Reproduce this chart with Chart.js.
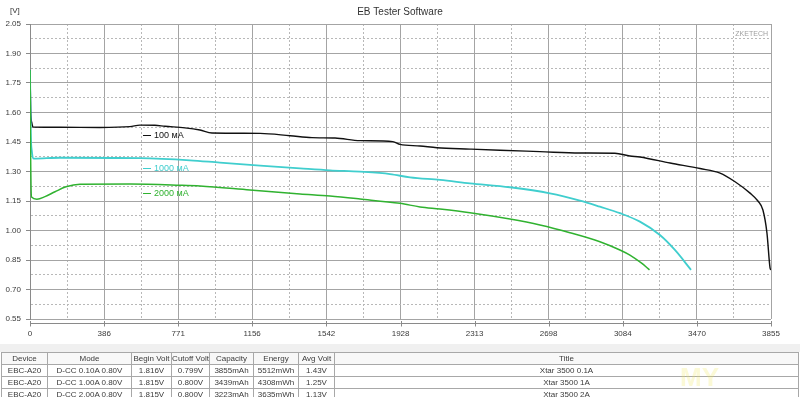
<!DOCTYPE html>
<html>
<head>
<meta charset="utf-8">
<title>EB Tester Software</title>
<script src="https://cdn.jsdelivr.net/npm/chart.js@4/dist/chart.umd.min.js"></script>
<style>
  html, body { margin: 0; padding: 0; background: #fff; }
  #wrap { position: relative; width: 800px; height: 397px; overflow: hidden; font-family: 'Liberation Sans', Arial, sans-serif; }
  #chartBox { position: absolute; left: 0; top: 0; width: 800px; height: 350px; }
  #band { position: absolute; left: 0; top: 344px; width: 800px; height: 8px; background: #f0f0f0; }
  #info { position: absolute; left: 1px; top: 352px; width: 798px; border-collapse: collapse; table-layout: fixed; font-size: 8px; color: #3a3a3a; }
  #info td, #info th { border: 1px solid #a8a8a8; height: 11px; padding: 0; text-align: center; font-weight: normal; white-space: nowrap; overflow: hidden; line-height: 11px; }
  #info th { background: #f8f8f8; }
  #mark { position: absolute; left: 680px; top: 362px; font: bold 26px 'Liberation Sans', Arial, sans-serif; color: rgba(240, 230, 90, 0.25); pointer-events: none; }
</style>
</head>
<body>
<div id="wrap">
  <div id="chartBox"><canvas id="myChart" width="800" height="350"></canvas></div>
  <div id="band"></div>
  <table id="info">
    <colgroup>
      <col style="width:46px"><col style="width:84px"><col style="width:40px"><col style="width:38px">
      <col style="width:44px"><col style="width:45px"><col style="width:36px"><col>
    </colgroup>
    <thead><tr id="headRow"></tr></thead>
    <tbody id="bodyRows"></tbody>
  </table>
  <div id="mark">MY</div>
</div>
<script>
'use strict';

// axis labels
const yTickLabels = [ '0.55','0.70','0.85','1.00','1.15','1.30','1.45','1.60','1.75','1.90','2.05' ];
const xTickLabels = [ '0','386','771','1156','1542','1928','2313','2698','3084','3470','3855' ];

// 100 mA run (capacity mAh / voltage V)
const cap100 = [ 0, 4, 10, 16, 156, 364, 520, 572, 650, 702, 806, 884, 947, 1197, 1353, 1467, 1587, 1717, 1888, 1925, 2029, 2117, 2289, 2445, 2653, 2861, 3043, 3121, 3173, 3330, 3486, 3590, 3668, 3746, 3787, 3813, 3834, 3850, 3855 ];
const volt100 = [ 1.816, 1.60, 1.545, 1.526, 1.525, 1.524, 1.528, 1.536, 1.535, 1.530, 1.522, 1.511, 1.496, 1.494, 1.482, 1.472, 1.470, 1.457, 1.452, 1.438, 1.430, 1.421, 1.414, 1.408, 1.401, 1.394, 1.393, 1.379, 1.374, 1.343, 1.315, 1.292, 1.248, 1.19, 1.15, 1.104, 0.987, 0.81, 0.799 ];

// 1000 mA run
const cap1000 = [ 0, 4, 10, 20, 156, 572, 832, 988, 1197, 1405, 1561, 1717, 1873, 1977, 2133, 2289, 2497, 2705, 2861, 2965, 3069, 3173, 3277, 3355, 3439 ];
const volt1000 = [ 1.815, 1.50, 1.40, 1.365, 1.370, 1.368, 1.357, 1.345, 1.330, 1.316, 1.306, 1.299, 1.287, 1.270, 1.257, 1.240, 1.220, 1.189, 1.152, 1.121, 1.088, 1.045, 0.977, 0.901, 0.800 ];

// 2000 mA run
const cap2000 = [ 0, 3, 8, 36, 78, 130, 187, 260, 520, 780, 884, 1144, 1405, 1561, 1717, 1925, 2029, 2133, 2289, 2497, 2653, 2809, 2965, 3069, 3121, 3180, 3223 ];
const volt2000 = [ 1.815, 1.40, 1.17, 1.159, 1.172, 1.197, 1.222, 1.235, 1.236, 1.230, 1.226, 1.206, 1.186, 1.175, 1.160, 1.138, 1.120, 1.109, 1.090, 1.058, 1.028, 0.989, 0.943, 0.901, 0.875, 0.835, 0.800 ];

const seriesNames = [ '100 мА', '1000 мА', '2000 мА' ];
const seriesColors = [ '#111111', 'rgb(64, 206, 206)', 'rgb(48, 178, 48)' ];
const labelCap = 588;
const labelVolt = [ 1.486, 1.319, 1.192 ];

// result table
const tableHead = [ 'Device', 'Mode', 'Begin Volt', 'Cutoff Volt', 'Capacity', 'Energy', 'Avg Volt', 'Title' ];
const tableRows = [
  [ 'EBC-A20', 'D-CC  0.10A  0.80V', '1.816V', '0.799V', '3855mAh', '5512mWh', '1.43V', 'Xtar 3500 0.1A' ],
  [ 'EBC-A20', 'D-CC  1.00A  0.80V', '1.815V', '0.800V', '3439mAh', '4308mWh', '1.25V', 'Xtar 3500 1A' ],
  [ 'EBC-A20', 'D-CC  2.00A  0.80V', '1.815V', '0.800V', '3223mAh', '3635mWh', '1.13V', 'Xtar 3500 2A' ]
];

const headRow = document.getElementById( 'headRow' );
tableHead.forEach( h => {
  const th = document.createElement( 'th' );
  th.textContent = h;
  headRow.appendChild( th );
} );
const bodyRows = document.getElementById( 'bodyRows' );
tableRows.forEach( r => {
  const tr = document.createElement( 'tr' );
  r.forEach( c => {
    const td = document.createElement( 'td' );
    td.textContent = c;
    tr.appendChild( td );
  } );
  bodyRows.appendChild( tr );
} );

function toPoints( caps, volts ) {
  let pts = [];
  for ( let i = 0; i < caps.length; i++ ) {
    pts.push( { x: caps[i], y: volts[i] } );
  }
  return pts;
}

// major ticks from the labels, dotted minor tick half way between
function withMinor( labels ) {
  let out = [];
  for ( let i = 0; i < labels.length; i++ ) {
    out.push( { value: Number( labels[i] ) } );
    if ( i < labels.length - 1 ) {
      out.push( { value: ( Number( labels[i] ) + Number( labels[i + 1] ) ) / 2 } );
    }
  }
  return out;
}

const FONT = 'Liberation Sans, Arial, sans-serif';

const decor = {
  id: 'decor',
  afterDraw( chart ) {
    const c = chart.ctx;
    const area = chart.chartArea;
    const xs = chart.scales.x;
    const ys = chart.scales.y;
    c.save();
    c.textBaseline = 'middle';

    c.fillStyle = '#333';
    c.font = '10px ' + FONT;
    c.textAlign = 'center';
    c.fillText( 'EB Tester Software', 400, 12 );

    c.font = '8px ' + FONT;
    c.textAlign = 'left';
    c.fillText( '[V]', 10, 11 );

    c.fillStyle = '#a0a0a0';
    c.font = '7px ' + FONT;
    c.textAlign = 'right';
    c.fillText( 'ZKETECH', area.right - 3, 34 );

    // inline series names
    c.font = '9px ' + FONT;
    c.textAlign = 'left';
    for ( let i = 0; i < seriesNames.length; i++ ) {
      const px = xs.getPixelForValue( labelCap );
      const py = Math.round( ys.getPixelForValue( labelVolt[i] ) ) + 0.5;
      c.strokeStyle = seriesColors[i];
      c.lineWidth = 1;
      c.beginPath();
      c.moveTo( px, py );
      c.lineTo( px + 8, py );
      c.stroke();
      c.fillStyle = seriesColors[i];
      c.fillText( seriesNames[i], px + 11, py + 0.5 );
    }

    // detached x axis line with tick marks
    const axY = area.bottom + 4.5;
    c.strokeStyle = '#8a8a8a';
    c.lineWidth = 1;
    c.beginPath();
    c.moveTo( area.left, axY );
    c.lineTo( area.right, axY );
    for ( let i = 0; i < xTickLabels.length; i++ ) {
      const tx = Math.round( xs.getPixelForValue( Number( xTickLabels[i] ) ) ) + 0.5;
      c.moveTo( tx, axY - 2.5 );
      c.lineTo( tx, axY + 3 );
    }
    c.stroke();
    c.restore();
  }
};

const ctx = document.getElementById( 'myChart' ).getContext( '2d' );
const myChart = new Chart( ctx, {
  type: 'line',
  data: {
    datasets: [ {
      label: seriesNames[2],
      data: toPoints( cap2000, volt2000 ),
      borderColor: seriesColors[2],
      borderWidth: 1.5,
      order: 0
    }, {
      label: seriesNames[1],
      data: toPoints( cap1000, volt1000 ),
      borderColor: seriesColors[1],
      borderWidth: 1.8,
      order: 1
    }, {
      label: seriesNames[0],
      data: toPoints( cap100, volt100 ),
      borderColor: seriesColors[0],
      borderWidth: 1.4,
      order: 2
    } ]
  },
  options: {
    responsive: false,
    animation: false,
    events: [],
    layout: { padding: { top: 24, right: 29, left: 0, bottom: 0 } },
    elements: {
      point: { radius: 0 },
      line: { cubicInterpolationMode: 'monotone', fill: false }
    },
    plugins: {
      legend: { display: false },
      title: { display: false },
      tooltip: { enabled: false }
    },
    scales: {
      x: {
        type: 'linear',
        min: 0,
        max: 3855,
        afterBuildTicks: s => { s.ticks = withMinor( xTickLabels ); },
        afterFit: s => { s.height = 31; },
        ticks: {
          autoSkip: false,
          maxRotation: 0,
          padding: 2,
          color: '#3a3a3a',
          font: { family: FONT, size: 8 },
          callback: ( v, i ) => ( i % 2 ? '' : xTickLabels[i / 2] )
        },
        grid: {
          color: c => ( c.index % 2 ? '#b8b8b8' : '#a4a4a4' ),
          lineWidth: 1,
          tickLength: 8,
          tickColor: 'rgba(0,0,0,0)'
        },
        border: {
          display: false,
          dash: c => ( c.index % 2 ? [ 2, 2 ] : [] )
        }
      },
      y: {
        min: 0.55,
        max: 2.05,
        afterBuildTicks: s => { s.ticks = withMinor( yTickLabels ); },
        afterFit: s => { s.width = 30; },
        ticks: {
          autoSkip: false,
          padding: 5,
          color: '#3a3a3a',
          font: { family: FONT, size: 8 },
          callback: ( v, i ) => ( i % 2 ? '' : yTickLabels[i / 2] )
        },
        grid: {
          color: c => ( c.index % 2 ? '#b8b8b8' : '#a4a4a4' ),
          lineWidth: 1,
          tickLength: 4,
          tickColor: c => ( c.index % 2 ? 'rgba(0,0,0,0)' : '#8a8a8a' )
        },
        border: {
          display: true,
          color: '#8a8a8a',
          dash: c => ( c.index % 2 ? [ 2, 2 ] : [] )
        }
      }
    }
  },
  plugins: [ decor ]
} );
</script>
</body>
</html>
